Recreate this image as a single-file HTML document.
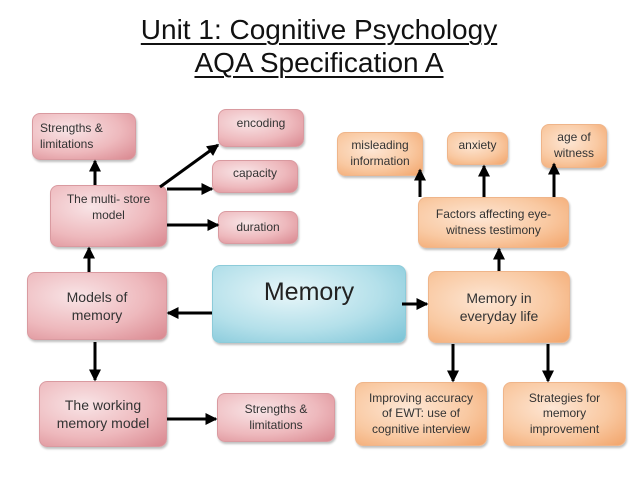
<!DOCTYPE html>
<html><head><meta charset="utf-8"><style>
body{margin:0;width:638px;height:479px;background:#fff;position:relative;overflow:hidden;font-family:"Liberation Sans",sans-serif;}
.t{position:absolute;left:0;width:638px;text-align:center;font-size:28px;color:#111;}
.t span{text-decoration:underline;text-decoration-thickness:2px;text-underline-offset:4px;}
.b{position:absolute;box-sizing:border-box;border-radius:8px;display:flex;align-items:center;justify-content:center;text-align:center;color:#333;line-height:1.3;box-shadow:1px 2px 2px rgba(0,0,0,.25);}
.p{background:radial-gradient(ellipse at 35% 35%,#f8e4e6 0%,#eeb9bd 55%,#d9878f 100%);border:1px solid #d99aa0;}
.o{background:radial-gradient(ellipse at 40% 40%,#fde6d4 0%,#f9c9a2 55%,#f2a46a 100%);border:1px solid #efb58a;}
.m{background:radial-gradient(ellipse at 40% 35%,#e8f6f9 0%,#b4e0ea 55%,#7ac3d6 100%);border:1px solid #8ccbd9;}
</style></head><body>
<div class="t" style="top:14px"><span>Unit 1: Cognitive Psychology</span></div>
<div class="t" style="top:47px"><span>AQA Specification A</span></div>

<div class="b p" style="left:32px;top:113px;width:104px;height:47px;font-size:12px;justify-content:flex-start;text-align:left;padding-left:7px">Strengths &amp;<br>limitations</div>
<div class="b p" style="left:218px;top:109px;width:86px;height:38px;font-size:12px;align-items:flex-start;padding-top:6px">encoding</div>
<div class="b p" style="left:212px;top:160px;width:86px;height:33px;font-size:12px;align-items:flex-start;padding-top:5px">capacity</div>
<div class="b p" style="left:218px;top:211px;width:80px;height:33px;font-size:12px">duration</div>
<div class="b p" style="left:50px;top:185px;width:117px;height:62px;font-size:12px;align-items:flex-start;padding-top:6px">The multi- store<br>model</div>
<div class="b p" style="left:27px;top:272px;width:140px;height:68px;font-size:14px">Models of<br>memory</div>
<div class="b m" style="left:212px;top:265px;width:194px;height:78px;font-size:25px;color:#222;align-items:flex-start;padding-top:10px">Memory</div>
<div class="b o" style="left:428px;top:271px;width:142px;height:72px;font-size:14px">Memory in<br>everyday life</div>
<div class="b p" style="left:39px;top:381px;width:128px;height:66px;font-size:14px">The working<br>memory model</div>
<div class="b p" style="left:217px;top:393px;width:118px;height:49px;font-size:12px">Strengths &amp;<br>limitations</div>
<div class="b o" style="left:355px;top:382px;width:132px;height:64px;font-size:12px">Improving accuracy<br>of EWT: use of<br>cognitive interview</div>
<div class="b o" style="left:503px;top:382px;width:123px;height:64px;font-size:12px">Strategies for<br>memory<br>improvement</div>
<div class="b o" style="left:418px;top:197px;width:151px;height:51px;font-size:12px">Factors affecting eye-<br>witness testimony</div>
<div class="b o" style="left:337px;top:132px;width:86px;height:44px;font-size:12px">misleading<br>information</div>
<div class="b o" style="left:447px;top:132px;width:61px;height:33px;font-size:12px;align-items:flex-start;padding-top:5px">anxiety</div>
<div class="b o" style="left:541px;top:124px;width:66px;height:44px;font-size:12px">age of<br>witness</div>

<svg width="638" height="479" style="position:absolute;left:0;top:0">
<defs><marker id="a" markerWidth="4" markerHeight="4" refX="3.5" refY="2" orient="auto" markerUnits="strokeWidth"><path d="M0,0L4,2L0,4z" fill="#000"/></marker></defs>
<g stroke="#000" stroke-width="3" fill="none" marker-end="url(#a)">
<line x1="95" y1="185" x2="95" y2="161"/>
<line x1="89" y1="272" x2="89" y2="248"/>
<line x1="160" y1="187" x2="218" y2="145"/>
<line x1="167" y1="189" x2="212" y2="189"/>
<line x1="167" y1="225" x2="218" y2="225"/>
<line x1="212" y1="313" x2="168" y2="313"/>
<line x1="95" y1="342" x2="95" y2="380"/>
<line x1="167" y1="419" x2="216" y2="419"/>
<line x1="402" y1="304" x2="427" y2="304"/>
<line x1="453" y1="344" x2="453" y2="381"/>
<line x1="548" y1="344" x2="548" y2="381"/>
<line x1="499" y1="271" x2="499" y2="249"/>
<line x1="420" y1="197" x2="420" y2="170"/>
<line x1="484" y1="197" x2="484" y2="166"/>
<line x1="554" y1="197" x2="554" y2="164"/>
</g></svg>
</body></html>
